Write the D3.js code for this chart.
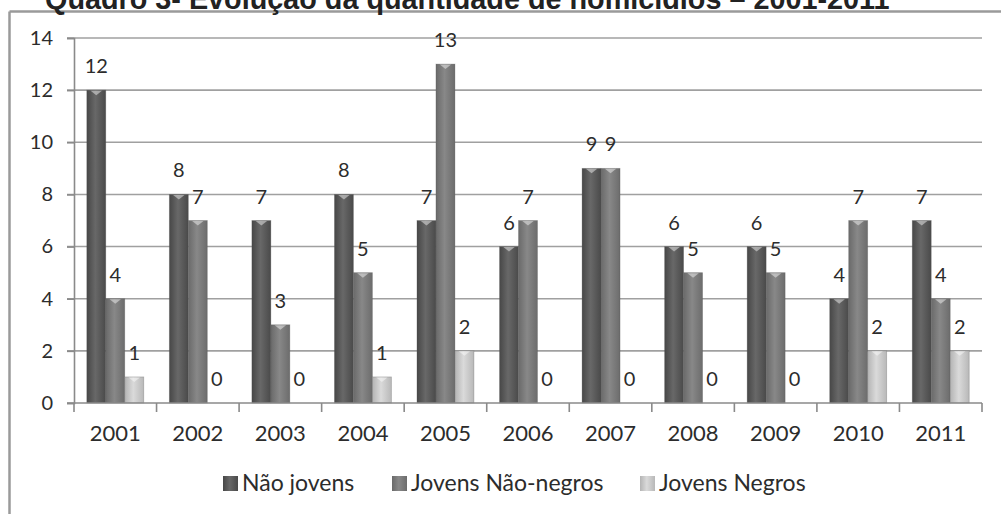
<!DOCTYPE html>
<html><head><meta charset="utf-8">
<script src="https://cdn.jsdelivr.net/npm/d3@7"></script>
<style>
html,body{margin:0;padding:0;background:#fff;overflow:hidden;}
text{font-family:Lato,"Open Sans",sans-serif;fill:#2c2c2c;}
</style></head>
<body>
<svg id="chart" width="1001" height="514"></svg>
<script>
const title = "Quadro 3- Evolução da quantidade de homicídios – 2001-2011";
const years = ["2001","2002","2003","2004","2005","2006","2007","2008","2009","2010","2011"];
const seriesNames = ["Não jovens","Jovens Não-negros","Jovens Negros"];
const naoJovens = [12,8,7,8,7,6,9,6,6,4,7];
const jovensNaoNegros = [4,7,3,5,13,7,9,5,5,7,4];
const jovensNegros = [1,0,0,1,2,0,0,0,0,2,2];
const yTicks = [0,2,4,6,8,10,12,14];

const seriesValues = [naoJovens, jovensNaoNegros, jovensNegros];
const svg = d3.select("#chart");
const defs = svg.append("defs");
const palettes = [
  ["#474747","#686868","#4a4a4a"],
  ["#6a6a6a","#888888","#6c6c6c"],
  ["#b4b4b4","#dadada","#b8b8b8"]
];
palettes.forEach((p,i)=>{
  const g = defs.append("linearGradient").attr("id","g"+i).attr("x1","0").attr("x2","1").attr("y1","0").attr("y2","0");
  g.append("stop").attr("offset","0%").attr("stop-color",p[0]);
  g.append("stop").attr("offset","45%").attr("stop-color",p[1]);
  g.append("stop").attr("offset","100%").attr("stop-color",p[2]);
});

// frame
svg.append("line").attr("x1",9.5).attr("x2",1001).attr("y1",11.5).attr("y2",11.5).attr("stroke","#9a9a9a").attr("stroke-width",2.5);
svg.append("line").attr("x1",9.5).attr("x2",9.5).attr("y1",11.5).attr("y2",514).attr("stroke","#9a9a9a").attr("stroke-width",2.5);

// title (clipped at top, as in the reference)
const t = svg.append("text").attr("x",45).attr("y",9)
  .style("font-family","'Liberation Sans',Arial,sans-serif").style("font-weight","bold")
  .style("font-size","22px").style("fill","#222").text(title);
const tw = t.node().getComputedTextLength();
t.style("font-size",(22*845/tw)+"px");

const left = 74, right = 982, y0 = 403, yTop = 38;
const x0 = d3.scaleBand().domain(years).range([left,right]).paddingInner(0.31).paddingOuter(0.155);
const x1 = d3.scaleBand().domain(d3.range(3)).range([0,x0.bandwidth()]);
const y = d3.scaleLinear().domain([0,14]).range([y0,yTop]);

// gridlines
svg.append("g").selectAll("line").data(yTicks.filter(d=>d>0)).join("line")
  .attr("x1",67).attr("x2",right).attr("y1",d=>y(d)).attr("y2",d=>y(d))
  .attr("stroke","#a0a0a0").attr("stroke-width",1.6);

// y axis
const yAxis = d3.axisLeft(y).tickValues(yTicks).tickSize(7).tickPadding(14);
const ya = svg.append("g").attr("transform",`translate(${left},0)`).call(yAxis);
ya.select(".domain").attr("stroke","#8a8a8a").attr("stroke-width",1.6);
ya.selectAll(".tick line").attr("stroke","#8a8a8a").attr("stroke-width",1.6);
ya.selectAll("text").style("font-size","20px").style("fill","#2c2c2c").style("font-family","Lato,sans-serif");

// bars
const groups = svg.append("g").selectAll("g").data(years).join("g")
  .attr("transform",d=>`translate(${x0(d)},0)`);
groups.each(function(yr,i){
  const g = d3.select(this);
  seriesValues.forEach((vals,s)=>{
    const v = vals[i];
    if(v>0){
      g.append("rect").attr("x",x1(s)).attr("width",x1.bandwidth()).attr("y",y(v)).attr("height",y0-y(v))
        .attr("fill",`url(#g${s})`).attr("stroke","#555").attr("stroke-opacity",0.35).attr("stroke-width",0.8);
      const cx = x1(s)+x1.bandwidth()/2, w = x1.bandwidth();
      g.append("path").attr("d",`M${cx-w*0.3},${y(v)+0.5}L${cx+w*0.3},${y(v)+0.5}L${cx},${y(v)+5}Z`)
        .attr("fill","#fff").attr("opacity",0.45);
    }
    g.append("text").attr("x",x1(s)+x1.bandwidth()/2).attr("y",y(v)-17)
      .attr("text-anchor","middle").style("font-size","20px").text(v);
  });
});

// x axis
const xLine = d3.scaleLinear().domain([0,years.length]).range([left,right]);
const xa = svg.append("g");
xa.append("line").attr("x1",67).attr("x2",right).attr("y1",y0).attr("y2",y0).attr("stroke","#8a8a8a").attr("stroke-width",1.6);
xa.selectAll("line.tk").data(d3.range(years.length+1)).join("line").attr("class","tk")
  .attr("x1",d=>xLine(d)).attr("x2",d=>xLine(d)).attr("y1",y0).attr("y2",y0+9)
  .attr("stroke","#8a8a8a").attr("stroke-width",1.6);
xa.selectAll("text").data(years).join("text")
  .attr("x",d=>x0(d)+x0.bandwidth()/2).attr("y",441).attr("text-anchor","middle")
  .style("font-size","22px").text(d=>d);

// legend
const legX = [223,392,640];
const leg = svg.append("g").selectAll("g").data(seriesNames).join("g")
  .attr("transform",(d,i)=>`translate(${legX[i]},476)`);
leg.append("rect").attr("width",15).attr("height",15).attr("fill",(d,i)=>`url(#g${i})`);
leg.append("text").attr("x",19).attr("y",15).style("font-size","23px").text(d=>d);
</script>
</body></html>
